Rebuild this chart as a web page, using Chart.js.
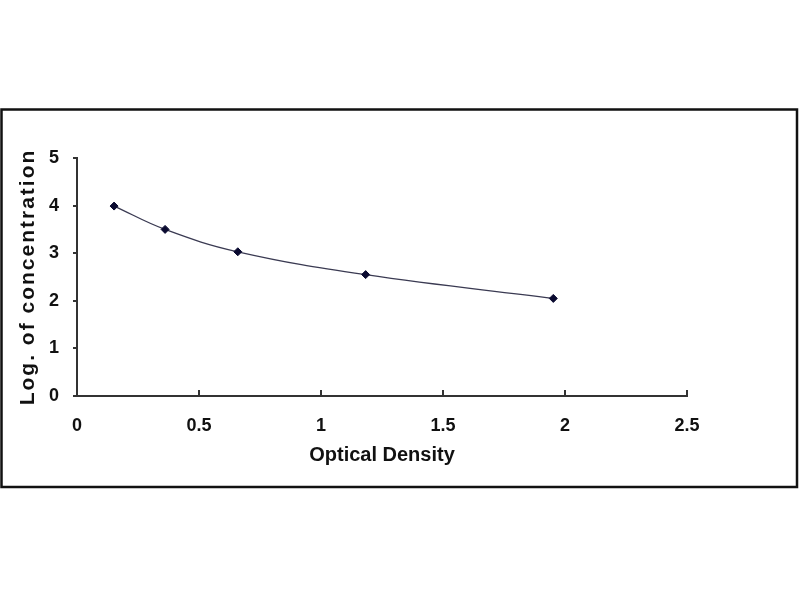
<!DOCTYPE html>
<html>
<head>
<meta charset="utf-8">
<script src="https://cdn.jsdelivr.net/npm/chart.js@4"></script>
<style>
    html, body { margin: 0; padding: 0; background: #fff; }
    #chart { display: block; }
</style>
</head>
<body>
<canvas id="chart" width="800" height="600"></canvas>
<script>
// standard curve points
const opticalDensity = [0.152, 0.361, 0.659, 1.183, 1.952];
const logConcentration = [3.99, 3.50, 3.03, 2.55, 2.05];

const xTicks = [0, 0.5, 1, 1.5, 2, 2.5];
const yTicks = [0, 1, 2, 3, 4, 5];

const FONT = 'Liberation Sans, Arial, sans-serif';
const AXIS = '#333';

// outer frame round the whole figure + white background
const framePlugin = {
    id: 'frame',
    beforeDraw(chart) {
        const ctx = chart.ctx;
        ctx.save();
        ctx.fillStyle = '#fff';
        ctx.fillRect(0, 0, chart.width, chart.height);
        ctx.strokeStyle = '#111';
        ctx.lineWidth = 2.5;
        ctx.strokeRect(1.5, 109.5, 795.5, 377.5);
        ctx.restore();

        // y title in the reference is spread out, canvas letterSpacing does it
        const y = chart.scales.y;
        if (y && !y._spaced) {
            const orig = y.drawTitle;
            y.drawTitle = function () {
                this.ctx.save();
                this.ctx.letterSpacing = '2px';
                orig.call(this);
                this.ctx.restore();
            };
            y._spaced = true;
        }
    }
};

const ctx = document.getElementById('chart').getContext('2d');
new Chart(ctx, {
    type: 'scatter',
    data: {
        datasets: [{
            data: opticalDensity.map((v, i) => ({ x: v, y: logConcentration[i] })),
            showLine: true,
            tension: 0.4,
            borderColor: '#3a3a52',
            borderWidth: 1.3,
            pointStyle: 'rectRot',
            pointRadius: 4,
            pointBackgroundColor: '#0a0a30',
            pointBorderColor: '#0a0a30',
            pointBorderWidth: 1
        }]
    },
    options: {
        responsive: false,
        animation: false,
        layout: {
            padding: { left: 14, top: 158, right: 113, bottom: 130 }
        },
        plugins: {
            legend: { display: false },
            tooltip: { enabled: false }
        },
        scales: {
            x: {
                type: 'linear',
                min: 0,
                max: 2.5,
                afterBuildTicks: (scale) => { scale.ticks = xTicks.map(v => ({ value: v })); },
                afterFit: (scale) => { scale.height = 74; },
                border: { display: true, color: AXIS, width: 2 },
                grid: { drawOnChartArea: false, drawTicks: true, tickLength: -6, color: AXIS, lineWidth: 2 },
                ticks: {
                    padding: 25,
                    color: '#111',
                    maxRotation: 0,
                    callback: (v) => String(v),
                    font: { family: FONT, size: 18, weight: 'bold' }
                },
                title: {
                    display: true,
                    text: 'Optical Density',
                    color: '#111',
                    padding: { top: 0, bottom: 3 },
                    font: { family: FONT, size: 20, weight: 'bold' }
                }
            },
            y: {
                min: 0,
                max: 5,
                afterBuildTicks: (scale) => { scale.ticks = yTicks.map(v => ({ value: v })); },
                afterFit: (scale) => { scale.width = 63; },
                border: { display: true, color: AXIS, width: 2 },
                grid: { drawOnChartArea: false, drawTicks: true, tickLength: 4, color: AXIS, lineWidth: 2 },
                ticks: {
                    padding: 14,
                    color: '#111',
                    callback: (v) => String(v),
                    font: { family: FONT, size: 18, weight: 'bold' }
                },
                title: {
                    display: true,
                    text: 'Log. of concentration',
                    color: '#111',
                    padding: { top: 2, bottom: 0 },
                    font: { family: FONT, size: 21, weight: 'bold' }
                }
            }
        }
    },
    plugins: [framePlugin]
});
</script>
</body>
</html>
